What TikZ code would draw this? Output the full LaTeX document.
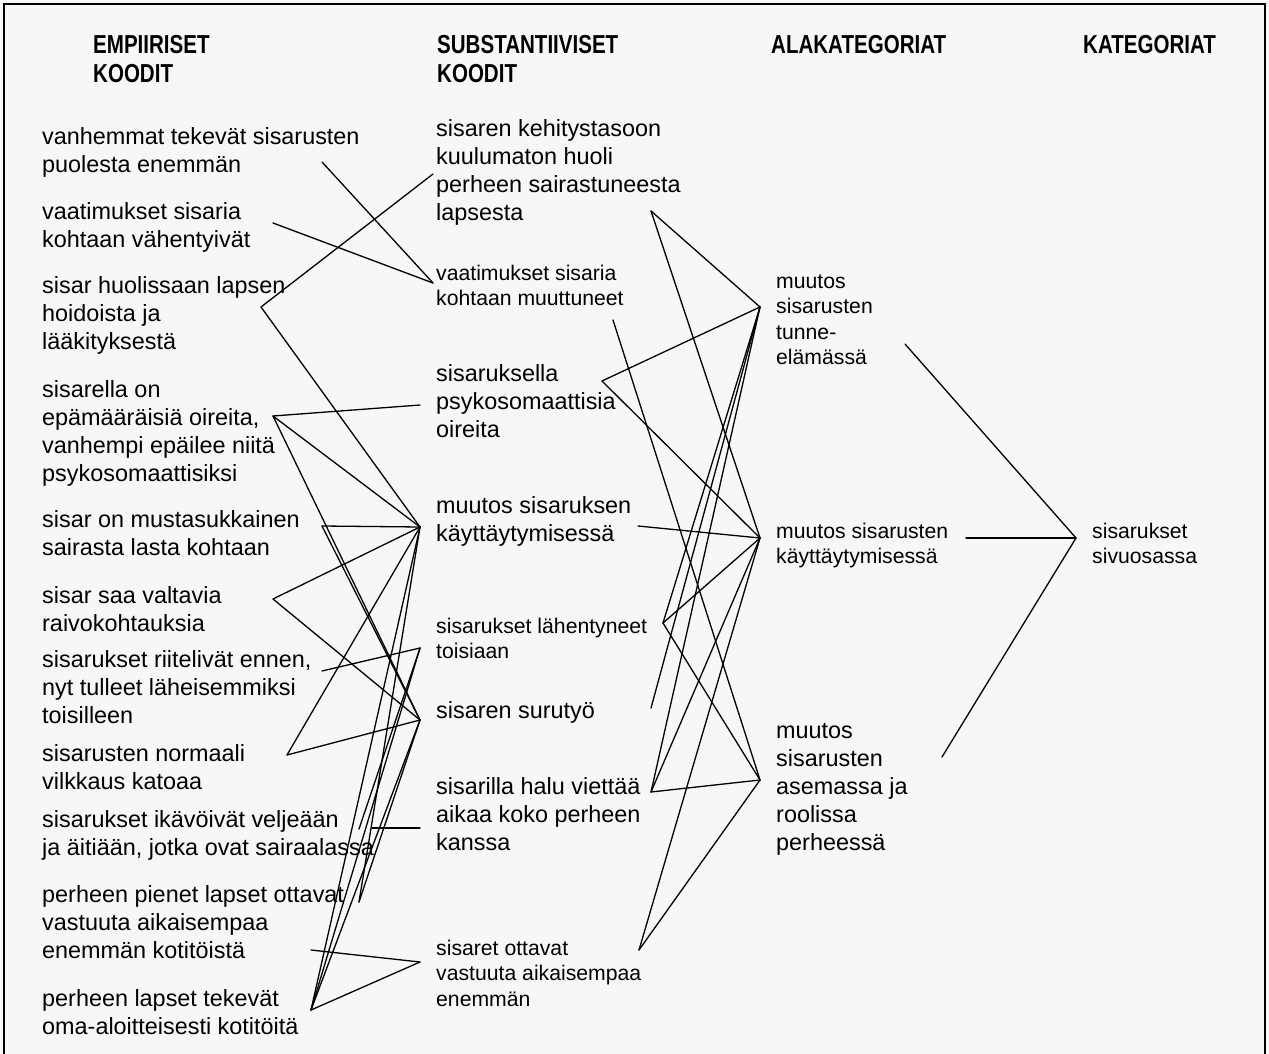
\documentclass[tikz,border=0pt]{standalone}
\usepackage{fontspec}
\setmainfont{Liberation Sans}
\newfontfamily\narrowbold[FakeStretch=0.79]{Liberation Sans Bold}
\newcommand\bigtxt{\fontsize{23.4}{28}\selectfont}
\newcommand\smalltxt{\fontsize{21.2}{25.5}\selectfont}
\newcommand\headtxt{\narrowbold\fontsize{26}{28.5}\selectfont}
\newcommand\blk[1]{\begin{tabular}[t]{@{}l@{}}#1\end{tabular}}
\begin{document}
\begin{tikzpicture}[x=1pt,y=-1pt,
  big/.style={anchor=base west,inner sep=0pt,font=\bigtxt},
  small/.style={anchor=base west,inner sep=0pt,font=\smalltxt},
  head/.style={anchor=base west,inner sep=0pt,font=\headtxt},
  link/.style={line width=1.3pt,line cap=round}]
\useasboundingbox (0,0) rectangle (1269,1054);
\fill[white!97!black] (0,0) rectangle (1269,1054);
% frame, open at the bottom
\draw[line width=2.4pt] (4,1070) -- (4,4) -- (1265,4) -- (1265,1070);

% column headings
\node[head] (h1) at (93,54) {\blk{EMPIIRISET\\KOODIT}};
\node[head] (h2) at (437,54) {\blk{SUBSTANTIIVISET\\KOODIT}};
\node[head] (h3) at (771,54) {ALAKATEGORIAT};
\node[head] (h4) at (1083,54) {KATEGORIAT};

% empirical codes
\node[big] (e1) at (42,145) {\blk{vanhemmat tekevät sisarusten\\puolesta enemmän}};
\node[big] (e2) at (42,219) {\blk{vaatimukset sisaria\\kohtaan vähentyivät}};
\node[big] (e3) at (42,293) {\blk{sisar huolissaan lapsen\\hoidoista ja\\lääkityksestä}};
\node[big] (e4) at (42,397) {\blk{sisarella on\\epämääräisiä oireita,\\vanhempi epäilee niitä\\psykosomaattisiksi}};
\node[big] (e5) at (42,527) {\blk{sisar on mustasukkainen\\sairasta lasta kohtaan}};
\node[big] (e6) at (42,603) {\blk{sisar saa valtavia\\raivokohtauksia}};
\node[big] (e7) at (42,667) {\blk{sisarukset riitelivät ennen,\\nyt tulleet läheisemmiksi\\toisilleen}};
\node[big] (e8) at (42,761) {\blk{sisarusten normaali\\vilkkaus katoaa}};
\node[big] (e9) at (42,827) {\blk{sisarukset ikävöivät veljeään\\ja äitiään, jotka ovat sairaalassa}};
\node[big] (e10) at (42,902) {\blk{perheen pienet lapset ottavat\\vastuuta aikaisempaa\\enemmän kotitöistä}};
\node[big] (e11) at (42,1006) {\blk{perheen lapset tekevät\\oma-aloitteisesti kotitöitä}};

% substantive codes
\node[big] (s1) at (436,137) {\blk{sisaren kehitystasoon\\kuulumaton huoli\\perheen sairastuneesta\\lapsesta}};
\node[small] (s2) at (436,280) {\blk{vaatimukset sisaria\\kohtaan muuttuneet}};
\node[big] (s3) at (436,381) {\blk{sisaruksella\\psykosomaattisia\\oireita}};
\node[big] (s4) at (436,513) {\blk{muutos sisaruksen\\käyttäytymisessä}};
\node[small] (s5) at (436,633) {\blk{sisarukset lähentyneet\\toisiaan}};
\node[big] (s6) at (436,718) {sisaren surutyö};
\node[big] (s7) at (436,794) {\blk{sisarilla halu viettää\\aikaa koko perheen\\kanssa}};
\node[small] (s8) at (436,955) {\blk{sisaret ottavat\\vastuuta aikaisempaa\\enemmän}};

% subcategories
\node[small] (a1) at (776,288) {\blk{muutos\\sisarusten\\tunne-\\elämässä}};
\node[small] (a2) at (776,538) {\blk{muutos sisarusten\\käyttäytymisessä}};
\node[big] (a3) at (776,738) {\blk{muutos\\sisarusten\\asemassa ja\\roolissa\\perheessä}};

% category
\node[small] (k1) at (1092,538) {\blk{sisarukset\\sivuosassa}};

% line ends beside the texts
\coordinate (e1r) at (322,162);
\coordinate (e2r) at (273,223);
\coordinate (e3r) at (261,307);
\coordinate (e4r) at (273,416);
\coordinate (e5r) at (322,526);
\coordinate (e6r) at (273,599);
\coordinate (e7r) at (322,671);
\coordinate (e8r) at (287,755);
\coordinate (e9r) at (359,829);
\coordinate (e9s) at (372,828);
\coordinate (e10r) at (359,902);
\coordinate (e10s) at (311,950);
\coordinate (e11r) at (311,1010);

\coordinate (s1l) at (433,174);
\coordinate (s2l) at (433,283);
\coordinate (s3l) at (420,405);
\coordinate (s4l) at (420,527);
\coordinate (s5l) at (420,648);
\coordinate (s6l) at (420,720);
\coordinate (s7l) at (420,828);
\coordinate (s8l) at (420,962);

\coordinate (s1r) at (651,211);
\coordinate (s2r) at (613,320);
\coordinate (s3r) at (602,381);
\coordinate (s4r) at (638,526);
\coordinate (s5r) at (663,623);
\coordinate (s6r) at (651,708);
\coordinate (s7r) at (651,792);
\coordinate (s8r) at (639,950);

\coordinate (a1l) at (760,307);
\coordinate (a2l) at (760,538);
\coordinate (a3l) at (760,780);
\coordinate (a1r) at (905,344);
\coordinate (a2r) at (966,538);
\coordinate (a3r) at (942,757);
\coordinate (k1l) at (1076,538);

% empirical -> substantive
\draw[link] (e1r) -- (s2l);
\draw[link] (e2r) -- (s2l);
\draw[link] (e3r) -- (s1l);
\draw[link] (e3r) -- (s4l);
\draw[link] (e4r) -- (s3l);
\draw[link] (e4r) -- (s4l);
\draw[link] (e4r) -- (s6l);
\draw[link] (e5r) -- (s4l);
\draw[link] (e5r) -- (s6l);
\draw[link] (e6r) -- (s4l);
\draw[link] (e6r) -- (s6l);
\draw[link] (e7r) -- (s5l);
\draw[link] (e8r) -- (s4l);
\draw[link] (e8r) -- (s6l);
\draw[link] (e9r) -- (s5l);
\draw[link] (e9s) -- (s7l);
\draw[link] (e10r) -- (s4l);
\draw[link] (e10r) -- (s6l);
\draw[link] (e10s) -- (s8l);
\draw[link] (e11r) -- (s4l);
\draw[link] (e11r) -- (s5l);
\draw[link] (e11r) -- (s6l);
\draw[link] (e11r) -- (s8l);

% substantive -> subcategories
\draw[link] (s1r) -- (a1l);
\draw[link] (s1r) -- (a2l);
\draw[link] (s2r) -- (a3l);
\draw[link] (s3r) -- (a1l);
\draw[link] (s3r) -- (a2l);
\draw[link] (s4r) -- (a2l);
\draw[link] (s5r) -- (a1l);
\draw[link] (s5r) -- (a2l);
\draw[link] (s5r) -- (a3l);
\draw[link] (s6r) -- (a1l);
\draw[link] (s7r) -- (a1l);
\draw[link] (s7r) -- (a2l);
\draw[link] (s7r) -- (a3l);
\draw[link] (s8r) -- (a2l);
\draw[link] (s8r) -- (a3l);

% subcategories -> category
\draw[link] (a1r) -- (k1l);
\draw[link] (a2r) -- (k1l);
\draw[link] (a3r) -- (k1l);
\end{tikzpicture}
\end{document}
